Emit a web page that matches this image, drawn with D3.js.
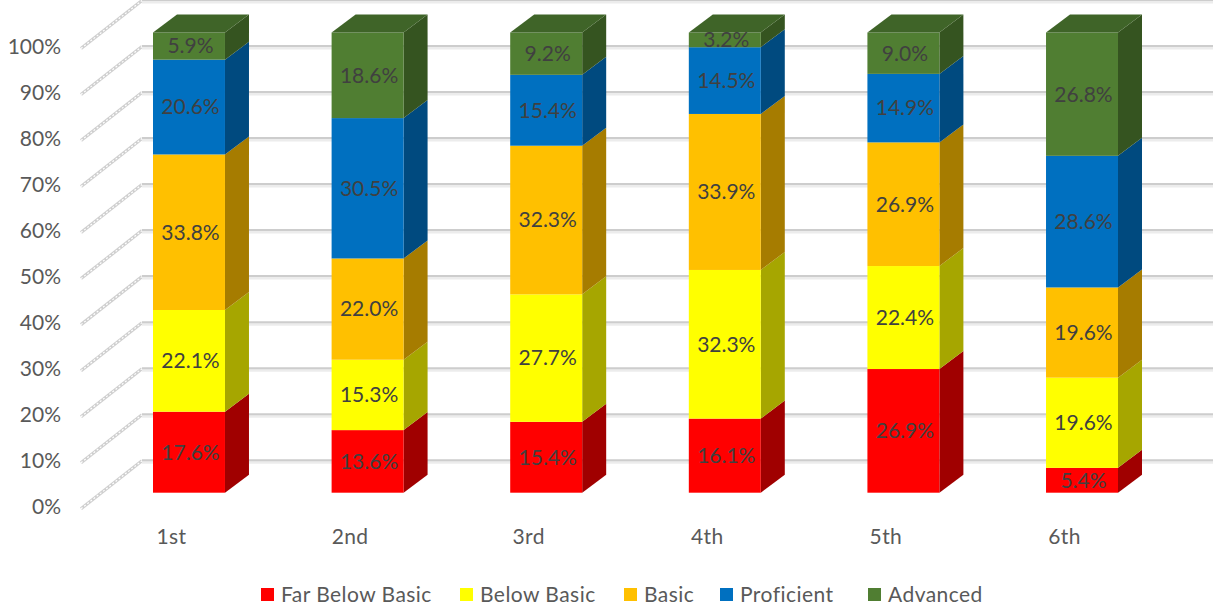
<!DOCTYPE html>
<html>
<head>
<meta charset="utf-8">
<script src="https://cdn.jsdelivr.net/npm/d3@7"></script>
<style>
  html, body { margin: 0; background: #fff; }
  svg { display: block; font-family: Lato, "Open Sans", sans-serif; }
</style>
</head>
<body>
<svg id="chart" width="1220" height="608"></svg>
<script>
const grades = ["1st", "2nd", "3rd", "4th", "5th", "6th"];
const levels = ["Far Below Basic", "Below Basic", "Basic", "Proficient", "Advanced"];
const farBelowBasic = [17.6, 13.6, 15.4, 16.1, 26.9, 5.4];
const belowBasic = [22.1, 15.3, 27.7, 32.3, 22.4, 19.6];
const basic = [33.8, 22.0, 32.3, 33.9, 26.9, 19.6];
const proficient = [20.6, 30.5, 15.4, 14.5, 14.9, 28.6];
const advanced = [5.9, 18.6, 9.2, 3.2, 9.0, 26.8];
const yTicks = [0, .1, .2, .3, .4, .5, .6, .7, .8, .9, 1];

const front = ["#ff0000", "#ffff00", "#ffc000", "#0070c0", "#507e32"];
const side = ["#a00000", "#a6a600", "#a67c00", "#004a7f", "#355420"];
const topFace = "#3f6428";

const depth = { x: 24, y: 18 };     // bar depth
const wall = { x: 61, y: 48 };      // side wall of the chart box

const svg = d3.select("#chart");

const table = grades.map((g, i) => ({
  grade: g,
  "Far Below Basic": farBelowBasic[i],
  "Below Basic": belowBasic[i],
  "Basic": basic[i],
  "Proficient": proficient[i],
  "Advanced": advanced[i]
}));

const series = d3.stack().keys(levels).offset(d3.stackOffsetExpand)(table);

const x = d3.scaleBand()
  .domain(grades)
  .range([153, 1118])
  .paddingInner(0.597)
  .paddingOuter(0);

const y = d3.scaleLinear().domain([0, 1]).range([492.7, 32.5]);

// walls
const grid = svg.append("g");
const wallLeft = 81, wallTop = 16;

yTicks.forEach(t => {
  const y0 = y(t) + wallTop;
  const y1 = y0 - wall.y;
  grid.append("line")
    .attr("x1", wallLeft).attr("x2", wallLeft + wall.x)
    .attr("y1", y0).attr("y2", y1)
    .attr("stroke", "#cfcfcf").attr("stroke-width", 3.2);
  grid.append("line")
    .attr("x1", wallLeft).attr("x2", wallLeft + wall.x)
    .attr("y1", y0).attr("y2", y1)
    .attr("stroke", "#fff").attr("stroke-width", 1.2)
    .attr("stroke-dasharray", "2 2");
  grid.append("line")
    .attr("x1", wallLeft + wall.x).attr("x2", 1213)
    .attr("y1", y1 + 1.5).attr("y2", y1 + 1.5)
    .attr("stroke", "#ececec").attr("stroke-width", 3);
  grid.append("line")
    .attr("x1", wallLeft + wall.x).attr("x2", 1213)
    .attr("y1", y1 - 0.5).attr("y2", y1 - 0.5)
    .attr("stroke", "#cdcdcd").attr("stroke-width", 2);
});

// y labels
svg.append("g").selectAll("text")
  .data(yTicks)
  .join("text")
  .attr("x", 61)
  .attr("y", d => y(d) + wallTop - 2)
  .attr("dy", "0.35em")
  .attr("text-anchor", "end")
  .attr("font-size", 21)
  .attr("fill", "#595959")
  .text(d3.format(".0%"));

// bars, bottom segment first so the edges overlap upwards
const poly = pts => pts.map(p => p.join(",")).join(" ");

series.forEach((s, k) => {
  const g = svg.append("g");
  s.forEach(d => {
    const x0 = x(d.data.grade);
    const x1 = x0 + x.bandwidth();
    const yb = y(d[0]), yt = y(d[1]);
    g.append("polygon")
      .attr("points", poly([[x1, yb], [x1 + depth.x, yb - depth.y], [x1 + depth.x, yt - depth.y], [x1, yt]]))
      .attr("fill", side[k]);
    g.append("rect")
      .attr("x", x0)
      .attr("y", yt)
      .attr("width", x.bandwidth())
      .attr("height", yb - yt)
      .attr("fill", front[k]);
    if (k === levels.length - 1) {
      g.append("polygon")
        .attr("points", poly([[x0, yt], [x0 + depth.x, yt - depth.y], [x1 + depth.x, yt - depth.y], [x1, yt]]))
        .attr("fill", topFace);
    }
  });
});

// data labels
series.forEach(s => {
  svg.append("g").selectAll("text")
    .data(s)
    .join("text")
    .attr("x", d => x(d.data.grade) + x.bandwidth() / 2 + 1.5)
    .attr("y", d => (y(d[0]) + y(d[1])) / 2)
    .attr("dy", "0.35em")
    .attr("text-anchor", "middle")
    .attr("font-size", 21)
    .attr("fill", "#404040")
    .text(d => d.data[s.key].toFixed(1) + "%");
});

// category labels sit under the floor, left of the bar centre
svg.append("g").selectAll("text")
  .data(grades)
  .join("text")
  .attr("x", d => x(d) + x.bandwidth() / 2 - 17.5)
  .attr("y", 537)
  .attr("dy", "0.35em")
  .attr("text-anchor", "middle")
  .attr("font-size", 21)
  .attr("letter-spacing", 0.4)
  .attr("fill", "#595959")
  .text(d => d);

// legend
const legendX = [261, 460, 624, 720, 868];
const legend = svg.append("g").selectAll("g")
  .data(levels)
  .join("g")
  .attr("transform", (d, i) => `translate(${legendX[i]},588)`);

legend.append("rect")
  .attr("width", 13)
  .attr("height", 13)
  .attr("fill", (d, i) => front[i]);

legend.append("text")
  .attr("x", 20)
  .attr("y", 6.5)
  .attr("dy", "0.35em")
  .attr("font-size", 21)
  .attr("letter-spacing", 0.45)
  .attr("fill", "#595959")
  .text(d => d);
</script>
</body>
</html>
